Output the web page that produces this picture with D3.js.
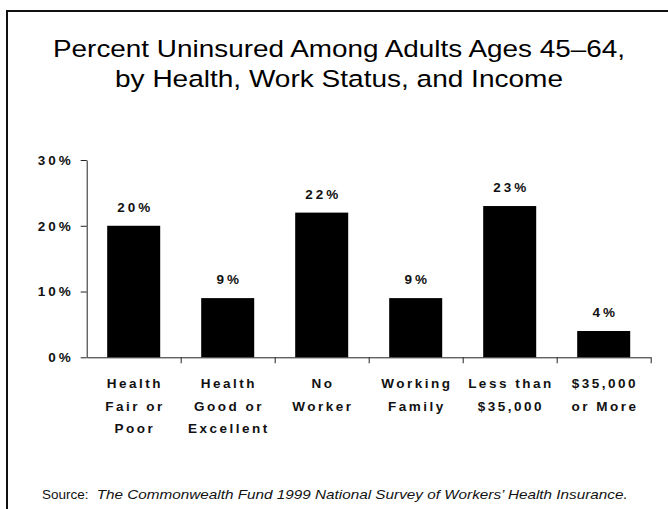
<!DOCTYPE html>
<html>
<head>
<meta charset="utf-8">
<script src="https://cdn.jsdelivr.net/npm/d3@7"></script>
<style>
  html, body { margin: 0; padding: 0; background: #fff; }
  svg { display: block; }
</style>
</head>
<body>
<svg id="chart" width="668" height="509"></svg>
<script>
// Data
const categories = [
  ["Health", "Fair or", "Poor"],
  ["Health", "Good or", "Excellent"],
  ["No", "Worker"],
  ["Working", "Family"],
  ["Less than", "$35,000"],
  ["$35,000", "or More"]
];
const values = [20, 9, 22, 9, 23, 4];
const yTicks = [0, 10, 20, 30];
const titleLines = [
  "Percent Uninsured Among Adults Ages 45\u201364,",
  "by Health, Work Status, and Income"
];
const sourceLabel = "Source:";
const sourceText = "The Commonwealth Fund 1999 National Survey of Workers\u2019 Health Insurance.";

const svg = d3.select("#chart");
const W = 668, H = 509;
const sans = "Liberation Sans, Arial, sans-serif";

// Slide frame (runs off the right and bottom edges)
svg.append("rect")
  .attr("x", 7).attr("y", 11)
  .attr("width", W + 20).attr("height", H + 20)
  .attr("fill", "none").attr("stroke", "#111").attr("stroke-width", 2);

// Title, glyphs stretched slightly to the slide's wider face
const titleWidths = [572, 448];
svg.append("g").selectAll("text").data(titleLines).join("text")
  .attr("x", 339).attr("y", (d, i) => 57 + i * 30)
  .attr("text-anchor", "middle")
  .attr("font-family", sans)
  .attr("font-size", 24.5)
  .attr("fill", "#000")
  .attr("textLength", (d, i) => titleWidths[i])
  .attr("lengthAdjust", "spacingAndGlyphs")
  .text(d => d);

// Scales
const x0 = 86.7, x1 = 650.7, yBase = 357.3, yTop = 160;
const p = 0.436;
const x = d3.scaleBand()
  .domain(d3.range(values.length))
  .range([x0, x1])
  .paddingInner(p).paddingOuter(p / 2);
const y = d3.scaleLinear().domain([0, 30]).range([yBase, yTop]);

// Bars
svg.append("g").selectAll("rect").data(values).join("rect")
  .attr("x", (d, i) => x(i))
  .attr("y", d => y(d))
  .attr("width", x.bandwidth())
  .attr("height", d => yBase - y(d))
  .attr("fill", "#000");

// Value labels
svg.append("g").selectAll("text").data(values).join("text")
  .attr("x", (d, i) => x(i) + x.bandwidth() / 2 + 1.5)
  .attr("y", d => y(d) - 14)
  .attr("text-anchor", "middle")
  .attr("font-family", sans).attr("font-weight", "bold")
  .attr("font-size", 13.5).attr("letter-spacing", "3px")
  .attr("fill", "#111")
  .text(d => d + "%");

// Y axis
const yAxis = d3.axisLeft(y).tickValues(yTicks).tickSize(6).tickSizeOuter(0)
  .tickFormat(d => d + "%");
const gy = svg.append("g").attr("transform", `translate(${x0},0)`).call(yAxis);
gy.select(".domain").attr("stroke", "#222");
gy.selectAll(".tick line").attr("stroke", "#222");
gy.selectAll(".tick text")
  .attr("x", -13)
  .attr("font-family", sans).attr("font-weight", "bold")
  .attr("font-size", 13.5).attr("letter-spacing", "3px")
  .attr("fill", "#111");

// X axis: ticks at band boundaries, pointing down
const boundaries = d3.range(1, values.length + 1).map(i => x0 + i * x.step());
const xb = d3.scaleLinear().domain([x0, x1]).range([x0, x1]);
const xAxis = d3.axisBottom(xb).tickValues(boundaries).tickSize(6).tickSizeOuter(0).tickFormat("");
const gx = svg.append("g").attr("transform", `translate(0,${yBase})`).call(xAxis);
gx.select(".domain").attr("stroke", "#222");
gx.selectAll(".tick line").attr("stroke", "#222");

// Category labels
const cat = svg.append("g").selectAll("text").data(categories).join("text")
  .attr("text-anchor", "middle")
  .attr("font-family", sans).attr("font-weight", "bold")
  .attr("font-size", 13.5).attr("letter-spacing", "2.5px")
  .attr("fill", "#111");
cat.selectAll("tspan").data((d, i) => d.map(t => ({ t, i }))).join("tspan")
  .attr("x", d => x(d.i) + x.bandwidth() / 2 + 1.2)
  .attr("y", (d, j) => 388 + j * 22.5)
  .text(d => d.t);

// Source note: plain label, italic publication title
const srcG = svg.append("g")
  .attr("font-family", sans).attr("font-size", 13.5).attr("fill", "#111");
srcG.append("text")
  .attr("x", 42).attr("y", 499)
  .attr("textLength", 46.5).attr("lengthAdjust", "spacingAndGlyphs")
  .text(sourceLabel);
srcG.append("text")
  .attr("x", 96.7).attr("y", 499)
  .attr("font-style", "italic")
  .attr("textLength", 531).attr("lengthAdjust", "spacingAndGlyphs")
  .text(sourceText);
</script>
</body>
</html>
